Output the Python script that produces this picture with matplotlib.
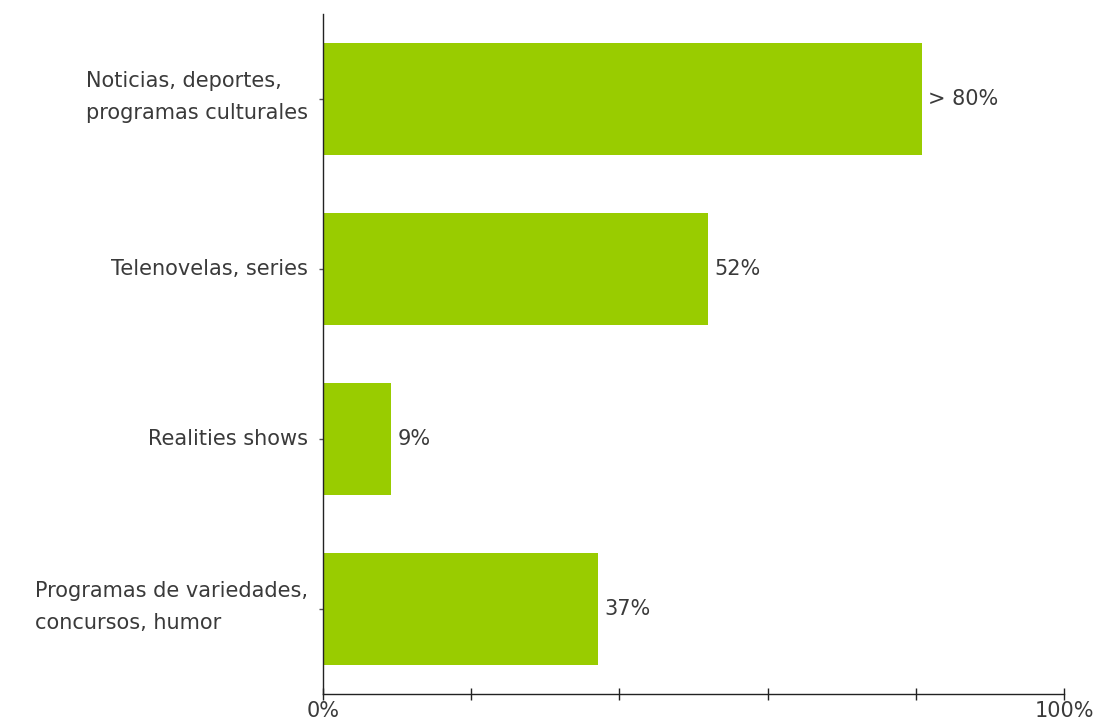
import matplotlib
matplotlib.use("Agg")
import matplotlib.pyplot as plt

categories = ["Noticias, deportes,\nprogramas culturales",
              "Telenovelas, series",
              "Realities shows",
              "Programas de variedades,\nconcursos, humor"]
values = [80.8, 52, 9.2, 37.1]
value_labels = ["> 80%", "52%", "9%", "37%"]
xtick_values = [0, 20, 40, 60, 80, 100]
xtick_labels = ["0%", "", "", "", "", "100%"]

FS = 15
W, H = 1105, 724
fig = plt.figure(figsize=(W / 100, H / 100), dpi=100)
ax = fig.add_axes([323 / W, (H - 694) / H, (1064 - 323) / W, (694 - 14) / H])

pos = list(range(len(categories)))
ax.barh(pos, values, height=0.66, color="#99cc00", edgecolor="none")
ax.set_ylim(len(categories) - 0.5, -0.5)
ax.set_xlim(0, 100)

for p, v, lab in zip(pos, values, value_labels):
    ax.annotate(lab, (v, p), xytext=(4.5, 0), textcoords="offset points",
                va="center", ha="left", fontsize=FS, color="#3a3a3a")

# category labels drawn as annotations at the tick positions
px = 72 / 100  # points per pixel
for p, cat in zip(pos, categories):
    dy = 2 * px if "\n" in cat else 0
    ax.annotate(cat, (0, p), xycoords=("axes fraction", "data"),
                xytext=(-15 * px, dy), textcoords="offset points",
                ha="right", va="center", multialignment="left",
                linespacing=1.75, fontsize=FS, color="#3a3a3a")

ax.set_yticks(pos)
ax.set_yticklabels([])
ax.set_xticks(xtick_values)
ax.set_xticklabels(xtick_labels, fontsize=FS, color="#3a3a3a")

for s in ["top", "right"]:
    ax.spines[s].set_visible(False)
for s in ["left", "bottom"]:
    ax.spines[s].set_color("#222222")
    ax.spines[s].set_linewidth(1.0)
ax.tick_params(axis="x", direction="inout", length=8, width=1, color="#222222", pad=1)
ax.tick_params(axis="y", direction="out", length=3, width=1, color="#555555")

fig.savefig("out.png", dpi=100, facecolor="white")
